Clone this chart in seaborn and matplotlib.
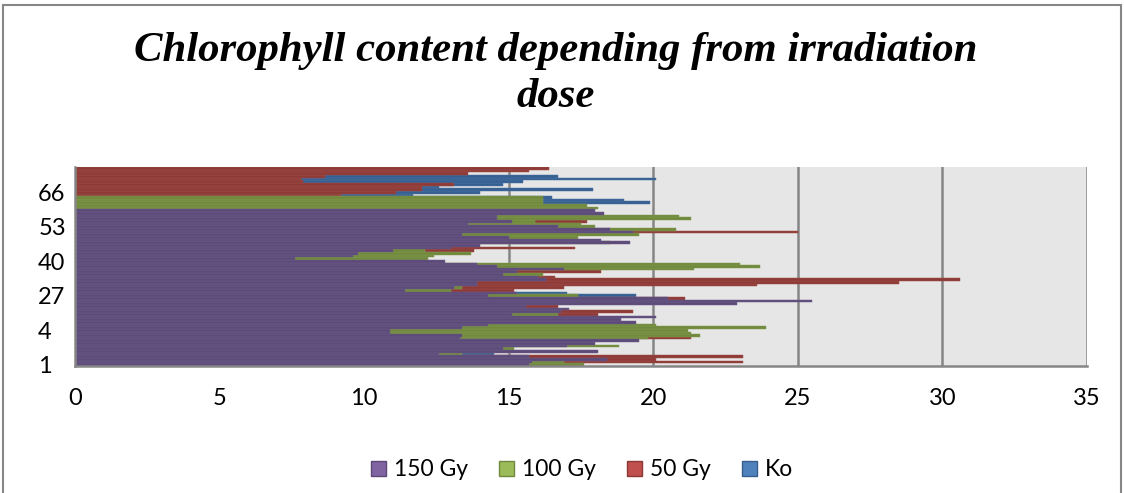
import numpy as np
import pandas as pd
import matplotlib
matplotlib.use("Agg")
import matplotlib.pyplot as plt
from matplotlib.patches import Patch, Rectangle
import seaborn as sns

nan = np.nan

# one value per category row (bottom row first); nan = not visible in the reference
gy150 = [15.7, 15.8, 18.4, 15.7, 12.6, 18.1, 14.8, 17.0, 18.0, 19.5,
         13.3, 13.4, 10.9, 10.9, 13.4, 14.3, 19.4, 18.9, 20.1, 15.1,
         16.8, 17.1, 15.6, 22.9, 25.5, 20.5, 14.3, 15.3, 11.4, 13.1,
         13.9, 13.9, 16.3, 16.0, 14.8, 15.3, 16.9, 14.6, 13.9, 12.8,
         7.6, 9.6, 9.8, 11.0, 13.0, 14.0, 19.2, 18.2, 15.0, 13.4,
         19.3, 18.5, 16.7, 13.6, 15.1, 14.6, 14.6, 18.3, 18.0,
         nan, nan, nan, nan, nan,
         nan, nan, nan, nan, nan, nan, nan, nan, nan, nan, nan]
gy100 = [17.6, 16.9, nan, nan, 13.4, nan, 15.2, 18.8, nan, nan,
         19.8, 21.6, 21.3, 21.2, 23.9, 20.1, nan, nan, nan, 16.7,
         nan, nan, nan, nan, nan, nan, 17.4, nan, 13.0, 13.4,
         nan, nan, nan, nan, 16.2, nan, 21.4, 23.7, 23.0, nan,
         12.2, 12.4, 13.7, 12.1, nan, nan, 18.5, nan, 17.4, 19.5,
         nan, 20.8, 18.0, 17.5, 15.9, 21.3, 20.9, nan, nan,
         18.1, 17.7, 16.2, 16.2, 16.2,
         nan, nan, nan, nan, nan, nan, nan, nan, nan, nan, nan]
gy50 = [nan, 23.1, 20.1, 23.1, nan, nan, nan, nan, nan, nan,
        21.3, nan, nan, nan, nan, nan, nan, nan, nan, 18.1,
        19.3, nan, 16.7, nan, nan, 21.1, nan, nan, 15.2, 16.9,
        23.6, 28.5, 30.6, 16.6, nan, 18.2, nan, nan, nan, nan,
        nan, nan, nan, 13.8, 17.3, nan, nan, nan, nan, nan,
        25.0, nan, nan, nan, 17.7, nan, nan, nan, nan,
        nan, nan, nan, nan, nan,
        9.2, 11.1, 12.0, 12.0, 13.1, 7.9, 7.8, 8.65, 13.6, 15.7, 16.4]
ko = [nan, nan, nan, nan, 14.5, nan, nan, nan, nan, nan,
      nan, nan, nan, nan, nan, nan, nan, nan, nan, nan,
      nan, nan, nan, nan, nan, nan, 19.4, 17.0, nan, nan,
      nan, nan, nan, nan, nan, nan, nan, nan, nan, nan,
      nan, nan, nan, nan, nan, nan, nan, nan, nan, nan,
      nan, nan, nan, nan, nan, nan, nan, nan, nan,
      nan, nan, 19.9, 19.0, 16.5,
      11.7, 14.0, 17.9, 12.6, 14.8, 15.5, 20.1, 16.7, nan, nan, nan]

series_names = ["150 Gy", "100 Gy", "50 Gy", "Ko"]
category_tick_labels = ["1", "4", "27", "40", "53", "66"]
x_ticks = [0, 5, 10, 15, 20, 25, 30, 35]

bar_colors = {"150 Gy": "#5C4A78", "100 Gy": "#71893D", "50 Gy": "#8E3A37", "Ko": "#376092"}
legend_colors = {"150 Gy": "#8064A2", "100 Gy": "#9BBB59", "50 Gy": "#C0504D", "Ko": "#4F81BD"}
legend_edges = {"150 Gy": "#5C4776", "100 Gy": "#71893F", "50 Gy": "#8C3836", "Ko": "#385D8A"}

n_rows = len(gy150)
rows = []
for name, vals in zip(series_names, [gy150, gy100, gy50, ko]):
    for i, v in enumerate(vals):
        rows.append({"row": i, "value": v, "series": name})
df = pd.DataFrame(rows).dropna()

sns.set_theme(style="white")
plt.rcParams["font.family"] = ["Lato", "DejaVu Sans"]
plt.rcParams["text.color"] = "black"

W, H = 1124, 493
fig = plt.figure(figsize=(W / 100, H / 100), dpi=100)
fig.patch.set_facecolor("white")
ax = fig.add_axes([75 / W, (H - 366) / H, (1087 - 75) / W, (366 - 167) / H])
ax.set_facecolor("#E6E6E6")

sns.barplot(data=df, x="value", y="row", hue="series",
            hue_order=["Ko", "50 Gy", "100 Gy", "150 Gy"],
            palette=bar_colors, saturation=1, orient="h", native_scale=True,
            dodge=False, width=1.0, errorbar=None, legend=False, ax=ax,
            linewidth=0)
# thin, faint bar outlines like the reference's soft bar borders
for cont in ax.containers:
    for p in cont.patches:
        fc = p.get_facecolor()
        p.set_edgecolor((min(fc[0] + 0.08, 1), min(fc[1] + 0.08, 1), min(fc[2] + 0.08, 1), 1))
        p.set_linewidth(0.35)

ax.set_xlim(0, 35)
ax.set_ylim(-0.5, n_rows - 0.5)
ax.set_xticks(x_ticks)
ax.set_xticklabels([str(t) for t in x_ticks])
ax.set_yticks(list(range(0, n_rows, 13))[:len(category_tick_labels)])
ax.set_yticklabels(category_tick_labels)
ax.set_xlabel("")
ax.set_ylabel("")
ax.xaxis.grid(True, color="#868686", linewidth=1.8)
ax.yaxis.grid(False)
ax.set_axisbelow(True)
for s in ["top", "right"]:
    ax.spines[s].set_visible(False)
for s in ["left", "bottom"]:
    ax.spines[s].set_visible(True)
    ax.spines[s].set_color("#868686")
    ax.spines[s].set_linewidth(1.8)
ax.tick_params(axis="x", length=0, labelsize=17, colors="black", pad=16)
ax.tick_params(axis="y", length=0, labelsize=17, colors="black", pad=26.5)
for lab in ax.get_yticklabels():
    lab.set_horizontalalignment("left")

fig.text(0.494, 1 - 74 / H, "Chlorophyll content depending from irradiation\ndose",
         ha="center", va="center", fontsize=30.8, family="Liberation Serif",
         weight="bold", style="italic", linespacing=1.3, color="black")

handles = [Patch(facecolor=legend_colors[n], edgecolor=legend_edges[n], linewidth=1.0)
           for n in series_names]
leg = fig.legend(handles, series_names, loc="center", bbox_to_anchor=(0.518, 1 - 470 / H),
                 ncol=4, frameon=False, fontsize=16.5, handlelength=0.66, handleheight=0.66,
                 handletextpad=0.35, columnspacing=1.35)
for t in leg.get_texts():
    t.set_color("black")

fig.add_artist(Rectangle((3 / W, -0.05), (1121 - 3) / W, 1.05 - 5 / H,
                         transform=fig.transFigure, fill=False,
                         edgecolor="#868686", linewidth=1.5))

fig.savefig("out.png", dpi=100)
